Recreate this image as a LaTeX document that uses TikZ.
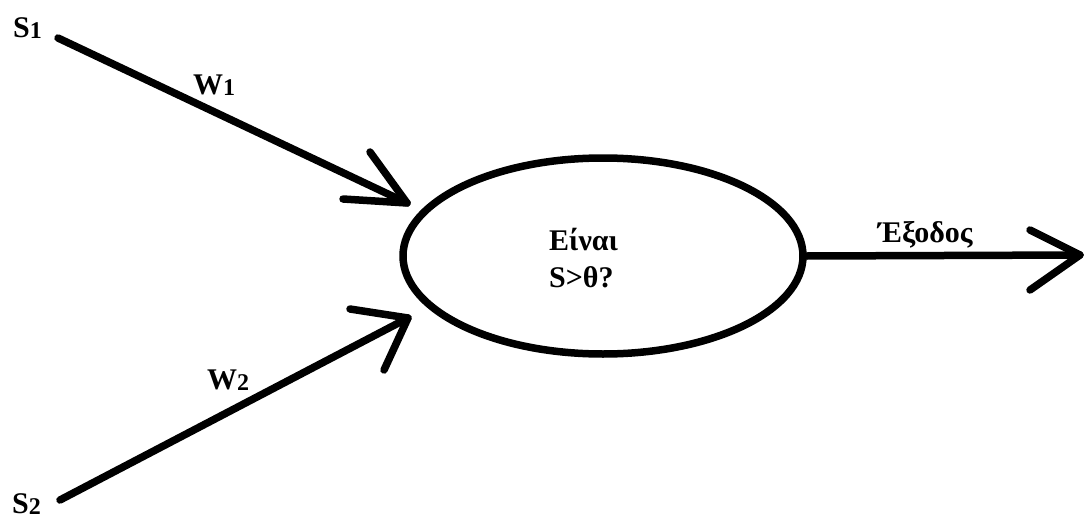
\documentclass[tikz,border=0pt]{standalone}
\usepackage{fontspec}
\setmainfont{Liberation Serif}
\usetikzlibrary{shapes.geometric}
\newcommand\mysub[1]{\raisebox{-1.5pt}{\fontsize{24}{24}\selectfont #1}}
\tikzset{
  stroke/.style={line width=7.5pt, line cap=round, line join=round},
  lbl/.style={anchor=base west, inner sep=0pt, font=\fontsize{30}{30}\selectfont\bfseries},
}
\begin{document}
\begin{tikzpicture}[x=1pt,y=-1pt]
\useasboundingbox (0,0) rectangle (1085,522);
% ellipse
\node (c) [draw, stroke, line width=7.5pt, ellipse, minimum width=400pt, minimum height=196pt, inner sep=0pt] at (603,256) {};
\node (t1) [lbl] at (549,250) {Είναι};
\node (t2) [lbl] at (549,287) {S>θ?};
% inputs
\node (s1) [lbl] at (13,37) {S\mysub{1}};
\node (s2) [lbl] at (12,513) {S\mysub{2}};
\node (w1) [lbl] at (193,94) {W\mysub{1}};
\node (w2) [lbl] at (207,389) {W\mysub{2}};
\node (out) [lbl] at (878,242) {Έξοδος};
% coordinates
\coordinate (a1s) at (58,38);
\coordinate (a1t) at (407,203);
\coordinate (a1u) at (370,152);
\coordinate (a1l) at (343,199);
\coordinate (a2s) at (60,500);
\coordinate (a2t) at (408,318);
\coordinate (a2u) at (350,309);
\coordinate (a2l) at (384,370);
\coordinate (ot) at (1080,255);
\coordinate (ou) at (1030,230);
\coordinate (ol) at (1030,290);
% connectors
\draw[stroke] (a1s) -- (a1t);
\draw[stroke] (a1u) -- (a1t) -- (a1l);
\draw[stroke] (a2s) -- (a2t);
\draw[stroke] (a2u) -- (a2t) -- (a2l);
\draw[stroke] (c.east) -- (ot);
\draw[stroke] (ou) -- (ot) -- (ol);
\end{tikzpicture}
\end{document}
